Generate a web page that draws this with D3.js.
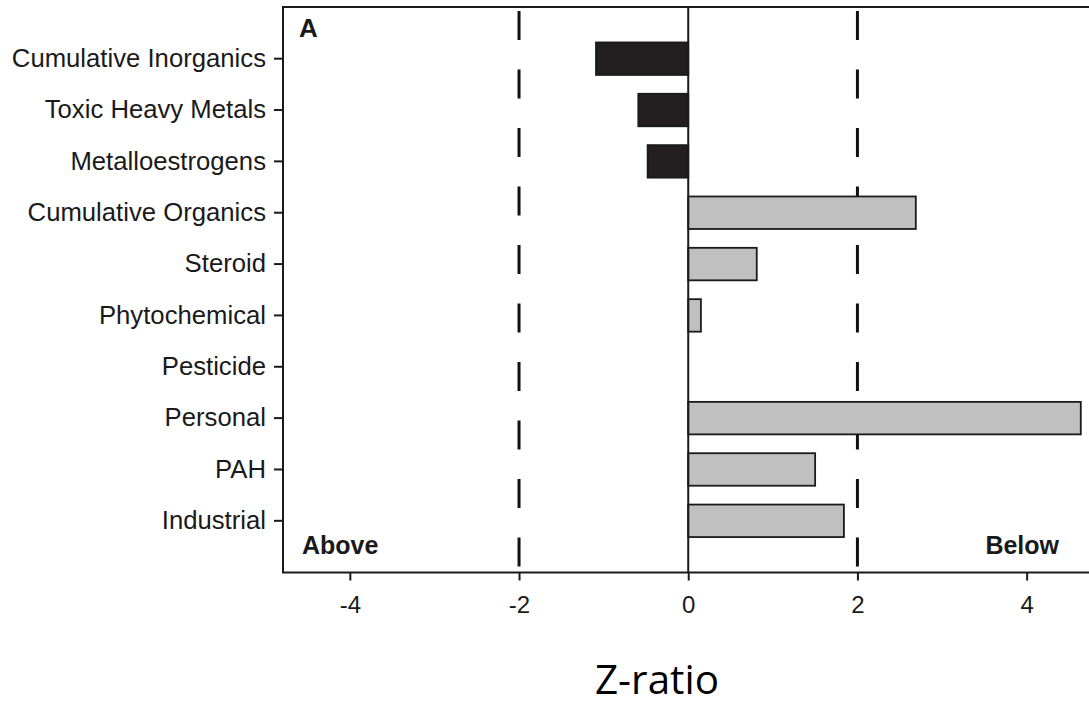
<!DOCTYPE html>
<html>
<head>
<meta charset="utf-8">
<script src="https://cdn.jsdelivr.net/npm/d3@7"></script>
<style>
  html, body { margin: 0; padding: 0; background: #fff; }
  svg { display: block; }
</style>
</head>
<body>
<svg id="chart" width="1089" height="705"></svg>
<script>
// ---- data ----
const categories = ["Cumulative Inorganics", "Toxic Heavy Metals", "Metalloestrogens",
  "Cumulative Organics", "Steroid", "Phytochemical", "Pesticide", "Personal", "PAH", "Industrial"];
const zRatios = [-1.09, -0.59, -0.48, 2.69, 0.81, 0.15, 0, 4.64, 1.50, 1.84];
const groups = ["inorganic", "inorganic", "inorganic", "organic", "organic", "organic", "organic", "organic", "organic", "organic"];
const xTicks = [-4, -2, 0, 2, 4];
const thresholds = [-2, 2];
const xDomain = [-4.79, 4.86];
const panelLabel = "A";
const sideLabels = ["Above", "Below"];
const axisTitle = "Z-ratio";

// ---- layout ----
const svg = d3.select("#chart");
const plot = { left: 283, top: 7, bottom: 572.5 };
const pxPerUnit = 84.6;
const plotRight = plot.left + (xDomain[1] - xDomain[0]) * pxPerUnit;
const sans = "'Liberation Sans', Arial, Helvetica, sans-serif";

const x = d3.scaleLinear().domain(xDomain).range([plot.left, plotRight]);
const y = d3.scaleBand().domain(categories).range([plot.top, plot.bottom])
  .paddingInner(0.367).paddingOuter(0.69);

const color = { inorganic: "#231f20", organic: "#c0c0c0" };

// threshold dashed lines
svg.selectAll("line.thr").data(thresholds).enter().append("line")
  .attr("class", "thr")
  .attr("x1", d => x(d)).attr("x2", d => x(d))
  .attr("y1", plot.top + 4).attr("y2", plot.bottom)
  .attr("stroke", "#111").attr("stroke-width", 3)
  .attr("stroke-dasharray", "29,29.5");

// bars
svg.selectAll("rect.bar").data(categories).enter().append("rect")
  .attr("class", "bar")
  .attr("x", (d, i) => x(Math.min(0, zRatios[i])))
  .attr("width", (d, i) => Math.abs(x(zRatios[i]) - x(0)))
  .attr("y", d => y(d))
  .attr("height", y.bandwidth())
  .attr("fill", (d, i) => color[groups[i]])
  .attr("stroke", "#1a1a1a")
  .attr("stroke-width", (d, i) => zRatios[i] === 0 ? 0 : 1.8);

// zero line
svg.append("line")
  .attr("x1", x(0)).attr("x2", x(0))
  .attr("y1", plot.top).attr("y2", plot.bottom)
  .attr("stroke", "#1a1a1a").attr("stroke-width", 2);

// frame
svg.append("path")
  .attr("d", `M${plotRight},${plot.top}H${plot.left}V${plot.bottom}H${plotRight}`)
  .attr("fill", "none").attr("stroke", "#1a1a1a").attr("stroke-width", 2);

// x axis
const xAxis = svg.append("g")
  .attr("transform", `translate(0,${plot.bottom})`)
  .call(d3.axisBottom(x).tickValues(xTicks).tickSize(8).tickPadding(15)
    .tickFormat(d => String(d)));
xAxis.attr("font-family", sans).attr("font-size", 24);
xAxis.select(".domain").remove();
xAxis.selectAll(".tick line").attr("stroke", "#1a1a1a").attr("stroke-width", 2);
xAxis.selectAll(".tick text").attr("fill", "#1a1a1a");

// y axis
const yAxis = svg.append("g")
  .attr("transform", `translate(${plot.left},0)`)
  .call(d3.axisLeft(y).tickSize(9).tickPadding(8));
yAxis.attr("font-family", sans).attr("font-size", 25.7);
yAxis.select(".domain").remove();
yAxis.selectAll(".tick line").attr("stroke", "#1a1a1a").attr("stroke-width", 2);
yAxis.selectAll(".tick text").attr("fill", "#1a1a1a");

// panel label
svg.append("text")
  .attr("x", plot.left + 16).attr("y", plot.top + 30)
  .attr("font-family", sans)
  .attr("font-weight", "bold").attr("font-size", 26).attr("fill", "#1a1a1a")
  .text(panelLabel);

// side labels
svg.append("text")
  .attr("x", plot.left + 19).attr("y", plot.bottom - 19)
  .attr("font-family", sans)
  .attr("font-weight", "bold").attr("font-size", 25).attr("fill", "#1a1a1a")
  .text(sideLabels[0]);
svg.append("text")
  .attr("x", 1059).attr("y", plot.bottom - 19)
  .attr("text-anchor", "end")
  .attr("font-family", sans)
  .attr("font-weight", "bold").attr("font-size", 25).attr("fill", "#1a1a1a")
  .text(sideLabels[1]);

// axis title
svg.append("text")
  .attr("x", 657).attr("y", 694)
  .attr("text-anchor", "middle")
  .attr("font-family", "'Open Sans', Lato, sans-serif")
  .attr("font-size", 40).attr("fill", "#000")
  .attr("textLength", 124).attr("lengthAdjust", "spacingAndGlyphs")
  .text(axisTitle);
</script>
</body>
</html>
